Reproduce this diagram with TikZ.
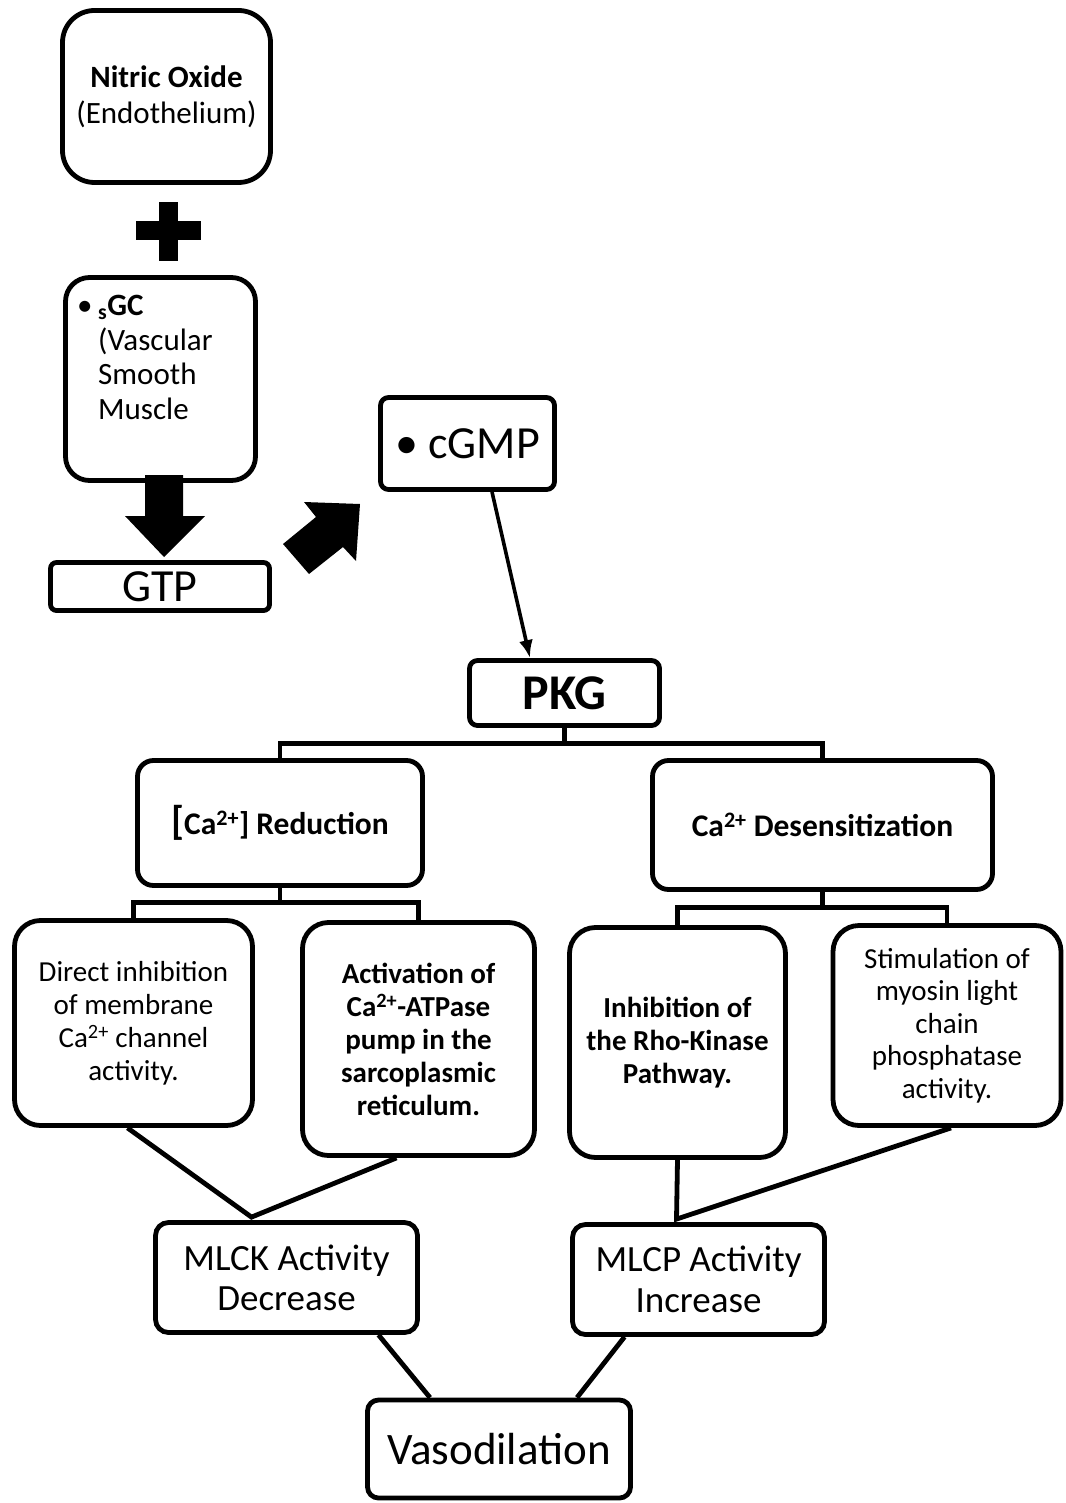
\documentclass[tikz,border=0pt]{standalone}
\usepackage{fontspec}
\setmainfont{Carlito}
\usetikzlibrary{arrows.meta,calc}
\tikzset{
  box/.style={draw, line width=4.8pt, rounded corners=#1, inner sep=0pt, align=center},
  box/.default=15pt,
  conn/.style={line width=4.8pt},
  blockarrow/.style={fill=black, draw=none}
}
\begin{document}
\begin{tikzpicture}[x=1pt,y=-1pt]
\fill[white] (0,0) rectangle (1065,1503);
\useasboundingbox (0,0) rectangle (1065,1503);

% top part
\node[box=32pt, minimum width=208pt, minimum height=172pt, font=\fontsize{31}{36}\selectfont] (no) at (166.5,96.5) {\textbf{Nitric Oxide}\\(Endothelium)};
\fill (159,202) rectangle (178,261);
\fill (136,221) rectangle (201,240);

\node[box=24pt, minimum width=190pt, minimum height=203pt] (sgc) at (160.5,379) {};
\node[anchor=north west, inner sep=0pt, align=left, font=\fontsize{31}{34.5}\selectfont] (sgctext) at (77,295)
  {\makebox[21pt][l]{•}\textbf{\textsubscript{s}GC}\\\hspace*{21pt}(Vascular\\\hspace*{21pt}Smooth\\\hspace*{21pt}Muscle};

\node[box=6pt, minimum width=219pt, minimum height=48pt, font=\fontsize{46}{50}\selectfont] (gtp) at (160,586.5) {GTP};
\fill[blockarrow] (145,475) -- (183,475) -- (183,516) -- (205,516) -- (164,557) -- (125,516) -- (145,516) -- cycle;

\node[box=8pt, minimum width=174pt, minimum height=92pt, font=\fontsize{46}{50}\selectfont] (cgmp) at (467.5,443.5) {• cGMP};
\fill[blockarrow] (283,544) -- (316,517) -- (304,502) -- (360,504) -- (356,561) -- (343,547) -- (309,574) -- cycle;

\node[box=8pt, minimum width=190pt, minimum height=65pt, font=\fontsize{50}{54}\selectfont\bfseries] (pkg) at (564.5,693) {PKG};
\draw[line width=3.6pt, -{Latex[length=18pt,width=14pt]}] ([xshift=24.5pt]cgmp.south) -- ([xshift=-34.5pt]pkg.north);

% second level
\node[box=16pt, minimum width=285pt, minimum height=125pt, font=\fontsize{31.5}{36}\selectfont\bfseries] (red) at (280,823)
  {{\fontsize{40}{40}\selectfont[}Ca\textsuperscript{2+}] Reduction};
\node[box=16pt, minimum width=340pt, minimum height=129pt, font=\fontsize{31.5}{36}\selectfont\bfseries] (des) at (822.5,825)
  {Ca\textsuperscript{2+} Desensitization};
\draw[conn] (pkg.south) -- ++(0,17);
\draw[conn] (red.north) -- ++(0,-15) -| (des.north);

% third level
\node[box=26pt, minimum width=238pt, minimum height=205pt, font=\fontsize{29}{33}\selectfont] (direct) at (133.5,1023)
  {Direct inhibition\\of membrane\\Ca\textsuperscript{2+} channel\\activity.};
\node[box=26pt, minimum width=232pt, minimum height=233pt, font=\fontsize{29}{33}\selectfont\bfseries] (act) at (418.5,1039)
  {Activation of\\Ca\textsuperscript{2+}-ATPase\\pump in the\\sarcoplasmic\\reticulum.};
\node[box=26pt, minimum width=216pt, minimum height=230pt, font=\fontsize{29}{33}\selectfont\bfseries] (inh) at (677.5,1042.5)
  {Inhibition of\\the Rho-Kinase\\Pathway.};
\node[box=26pt, minimum width=228pt, minimum height=200pt, font=\fontsize{29}{32.5}\selectfont] (stim) at (947,1025.5)
  {Stimulation of\\myosin light\\chain\\phosphatase\\activity.};
\draw[conn] (red.south) -- ++(0,17);
\draw[conn] (direct.north) -- ++(0,-16) -| (act.north);
\draw[conn] (des.south) -- ++(0,18);
\draw[conn] (inh.north) -- ++(0,-18) -| (stim.north);

% fourth level
\node[box=13pt, minimum width=262pt, minimum height=110pt, font=\fontsize{37}{40}\selectfont] (mlck) at (286.5,1277.5)
  {MLCK Activity\\Decrease};
\node[box=13pt, minimum width=252pt, minimum height=110pt, font=\fontsize{37}{41}\selectfont] (mlcp) at (698.5,1279.5)
  {MLCP Activity\\Increase};
\draw[conn] ([xshift=-6pt]direct.south) -- ([xshift=-35pt,yshift=3pt]mlck.north) -- ([xshift=-22pt]act.south);
\draw[conn] (inh.south) -- ([xshift=-22pt,yshift=3pt]mlcp.north) -- ([xshift=4pt]stim.south);

% bottom
\node[box=11pt, minimum width=263pt, minimum height=98pt, font=\fontsize{45}{50}\selectfont] (vaso) at (499,1449) {Vasodilation};
\draw[conn] ([xshift=92pt]mlck.south) -- ([xshift=-69pt]vaso.north);
\draw[conn] ([xshift=-74pt]mlcp.south) -- ([xshift=78pt]vaso.north);
\end{tikzpicture}
\end{document}
